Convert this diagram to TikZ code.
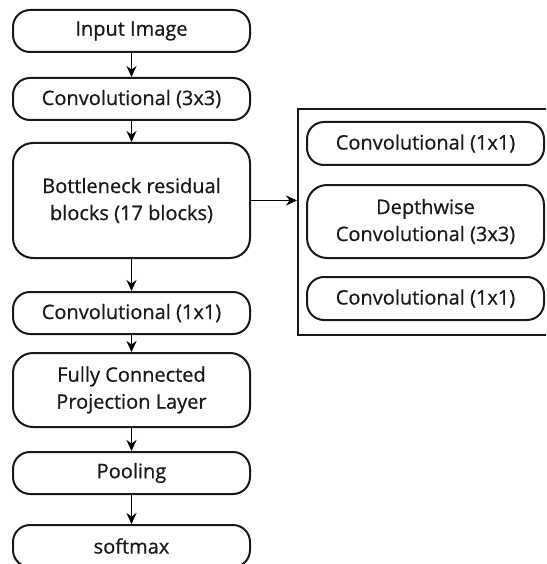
\documentclass[tikz,border=0pt]{standalone}
\usepackage{fontspec}
\setmainfont{Open Sans}[FakeBold=0.6]
\usetikzlibrary{arrows.meta}
\begin{document}
\begin{tikzpicture}[x=1pt,y=1pt,
  block/.style={draw=black!90, line width=2pt, rounded corners=17pt,
    minimum width=237pt, align=center, inner sep=0pt,
    font=\fontsize{20}{27}\selectfont, text=black!90},
  frame/.style={draw=black!90, line width=2pt, inner sep=0pt},
  flow/.style={draw=black, line width=1.9pt, -{Stealth[length=11pt,width=10pt]}}]
\useasboundingbox (0,0) rectangle (546,-564);
\clip (0,0) rectangle (546,-564);
% main column
\node[block, minimum height=42pt] (inp) at (131.5,-31) {Input Image};
\node[block, minimum height=42pt] (c3) at (131.5,-99) {Convolutional (3x3)};
\node[block, minimum height=115pt, rounded corners=20pt] (bn) at (131.5,-200.5) {Bottleneck residual\\blocks (17 blocks)};
\node[block, minimum height=42pt] (c1) at (131.5,-313) {Convolutional (1x1)};
\node[block, minimum height=74pt, rounded corners=20pt] (fc) at (131.5,-390) {Fully Connected\\Projection Layer};
\node[block, minimum height=42pt] (pool) at (131.5,-473) {Pooling};
\node[block, minimum height=42pt] (sm) at (131.5,-546) {softmax};
% bottleneck detail panel
\node[frame, minimum width=262pt, minimum height=226pt] (panel) at (429,-222) {};
\node[block, minimum height=43pt] (b1) at (425.5,-143.5) {Convolutional (1x1)};
\node[block, minimum height=73pt, rounded corners=20pt] (b2) at (425.5,-221.5) {Depthwise\\Convolutional (3x3)};
\node[block, minimum height=43pt] (b3) at (425.5,-298.5) {Convolutional (1x1)};
% connectors
\draw[flow] (inp) -- (c3);
\draw[flow] (c3) -- (bn);
\draw[flow] (bn) -- (c1);
\draw[flow] (c1) -- (fc);
\draw[flow] (fc) -- (pool);
\draw[flow] (pool) -- (sm);
\draw[flow] (bn.east) -- (bn.east -| panel.west);
\end{tikzpicture}
\end{document}
